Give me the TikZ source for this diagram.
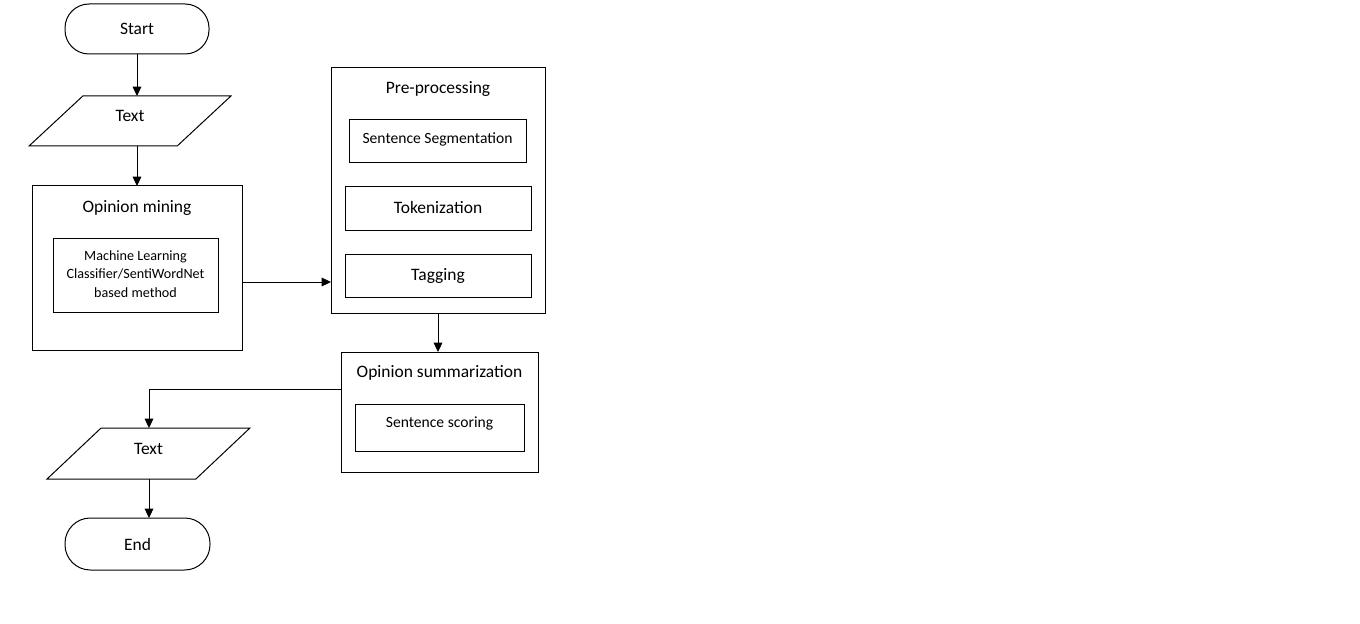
\documentclass[tikz,border=0pt]{standalone}
\usepackage{fontspec}
\setmainfont{Carlito}
\usetikzlibrary{shapes.geometric,arrows.meta,calc}
\begin{document}
\begin{tikzpicture}[x=0.75pt,y=-0.75pt,
  every node/.style={inner sep=0pt,outer sep=0pt},
  box/.style={draw,line width=0.75pt,rectangle,font=\fontsize{13.1}{15.7}\selectfont},
  subbox/.style={draw,line width=0.75pt,rectangle},
  title/.style={font=\fontsize{13.1}{15.7}\selectfont},
  term/.style={draw,line width=0.75pt,rounded corners=18pt,font=\fontsize{13.1}{15.7}\selectfont},
  io/.style={draw,line width=0.75pt,trapezium,trapezium left angle=51.34,trapezium right angle=128.66,trapezium stretches=true,font=\fontsize{13.1}{15.7}\selectfont},
  conn/.style={line width=0.75pt,-{Triangle[length=7pt,width=6.5pt]}},
  plain/.style={line width=0.75pt}]
\useasboundingbox (0,0) rectangle (1360,624);
% terminals and io
\node[term,minimum width=108pt,minimum height=37.5pt] (start) at (137,29) {\raisebox{-2pt}{Start}};
\node[io,minimum width=151.5pt,minimum height=37.5pt] (text1) at (130,121) {\raisebox{7pt}{Text}};
% opinion mining
\node[box,minimum width=157.5pt,minimum height=123pt] (om) at (137,268) {};
\node[title] (omt) at (137,208) {Opinion mining};
\node[subbox,minimum width=123.75pt,minimum height=55.5pt,align=center,font=\fontsize{10.6}{14.25}\selectfont] (ml) at (135.5,275) {\raisebox{2.25pt}{\begin{tabular}{@{}c@{}}Machine Learning\\[-0.4pt]Classifier/SentiWordNet\\[-0.4pt]based method\end{tabular}}};
% pre-processing
\node[box,minimum width=160.5pt,minimum height=183.75pt] (pp) at (438,190.5) {};
\node[title] (ppt) at (438,89) {Pre-processing};
\node[subbox,minimum width=132.75pt,minimum height=32.25pt,font=\fontsize{11.7}{14}\selectfont] (ss) at (437.5,141.5) {\raisebox{5pt}{Sentence Segmentation}};
\node[box,minimum width=139.5pt,minimum height=32.25pt] (tok) at (438,208.5) {\raisebox{2.25pt}{Tokenization}};
\node[box,minimum width=139.5pt,minimum height=32.25pt] (tag) at (438,275.5) {Tagging};
% opinion summarization
\node[box,minimum width=147.75pt,minimum height=90pt] (os) at (439.5,412) {};
\node[title] (ost) at (439.5,373) {Opinion summarization};
\node[subbox,minimum width=126.75pt,minimum height=35.25pt,font=\fontsize{11.7}{14}\selectfont] (sc) at (439.5,427.5) {\raisebox{8pt}{Sentence scoring}};
% output
\node[io,minimum width=152.25pt,minimum height=38.25pt] (text2) at (148.5,453.5) {\raisebox{7pt}{Text}};
\node[term,minimum width=108.75pt,minimum height=39pt,rounded corners=19pt] (end) at (137.5,544) {End};
% connectors
\coordinate (a1) at (242,282);
\coordinate (c2) at (149,389);
\draw[conn] (start.south) -- (start.south |- text1.north);
\draw[conn] (start.south |- text1.south) -- (start.south |- om.north);
\draw[conn] (om.east |- a1) -- (pp.west |- a1);
\draw[conn] (pp.south) -- (pp.south |- os.north);
\draw[conn] (os.west |- c2) -| (c2 |- text2.north);
\draw[conn] (c2 |- text2.south) -- (c2 |- end.north);
\end{tikzpicture}
\end{document}
